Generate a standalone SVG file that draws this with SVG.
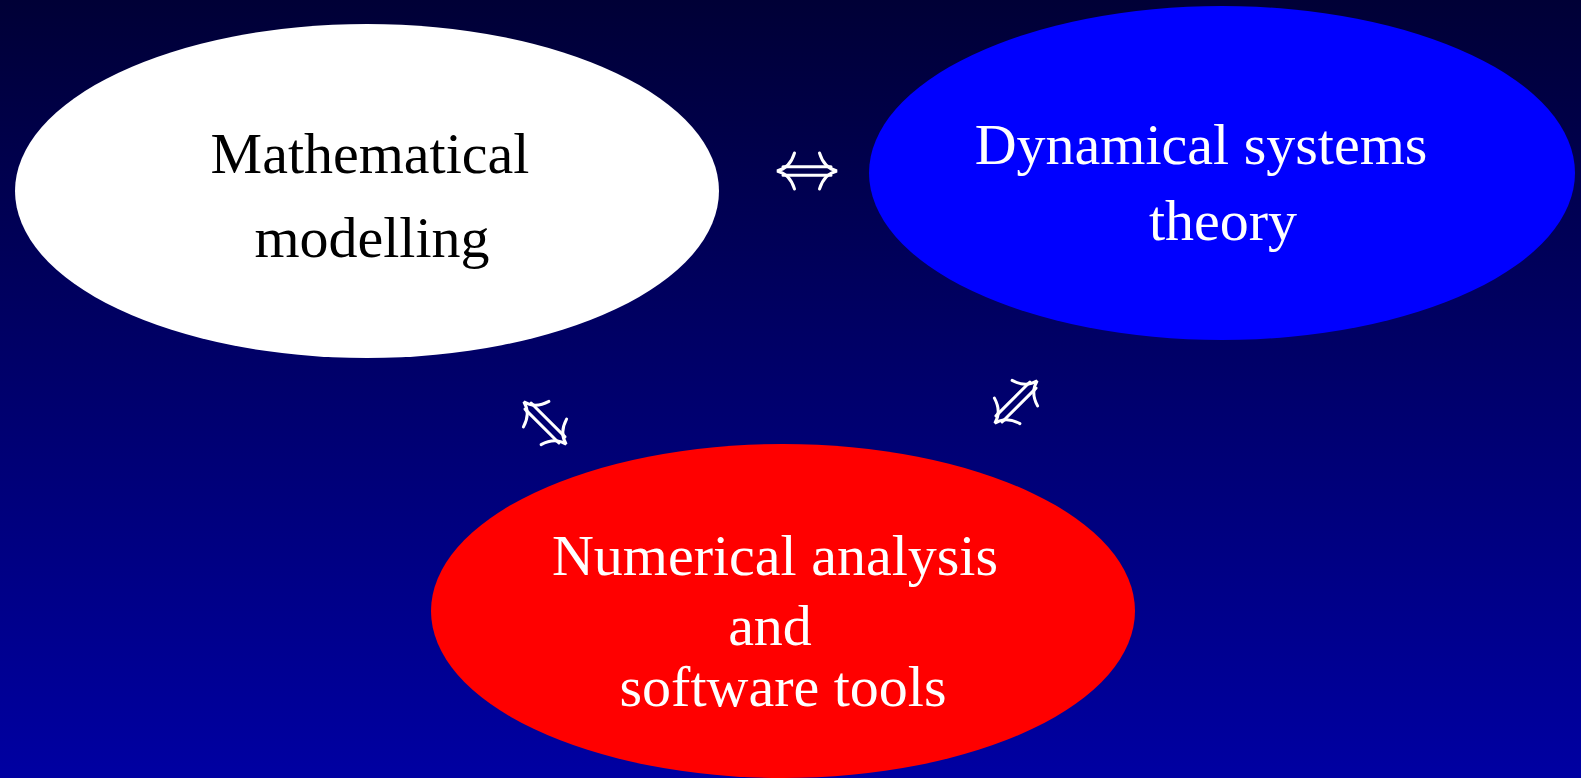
<svg xmlns="http://www.w3.org/2000/svg" width="1581" height="778" viewBox="0 0 1581 778">
  <defs>
    <linearGradient id="bg" x1="0" y1="0" x2="0" y2="1">
      <stop offset="0" stop-color="#000036"/>
      <stop offset="1" stop-color="#0000A2"/>
    </linearGradient>
    <!-- double-headed arrow, centred on the origin, pointing along x -->
    <g id="dblArrow" fill="none" stroke="#FFFFFF" stroke-width="3" stroke-linecap="round">
      <path d="M -24,-4.3 H 24 M -24,4.3 H 24"/>
      <path d="M -12.5,-18 Q -17,-3 -30,0 Q -17,3 -12.5,18"/>
      <path d="M 12.5,-18 Q 17,-3 30,0 Q 17,3 12.5,18"/>
    </g>
  </defs>
  <style>
    .label { font-family: "Liberation Serif", "Times New Roman", serif; font-size: 58px; text-anchor: middle; }
    .dark { fill: #000000; }
    .light { fill: #FFFFFF; }
  </style>

  <rect x="0" y="0" width="1581" height="778" fill="url(#bg)"/>

  <g id="node-modelling">
    <ellipse cx="367" cy="191" rx="352" ry="167" fill="#FFFFFF"/>
    <text class="label dark" x="370" y="173">Mathematical</text>
    <text class="label dark" x="372" y="257">modelling</text>
  </g>

  <g id="node-dynamics">
    <ellipse cx="1222" cy="173" rx="353" ry="167" fill="#0000FF"/>
    <text class="label light" x="1201" y="164">Dynamical systems</text>
    <text class="label light" x="1223" y="240">theory</text>
  </g>

  <g id="node-numerics">
    <ellipse cx="783" cy="611" rx="352" ry="167" fill="#FF0000"/>
    <text class="label light" x="775" y="575">Numerical analysis</text>
    <text class="label light" x="770" y="645">and</text>
    <text class="label light" x="783" y="706">software tools</text>
  </g>

  <g id="connectors">
    <use href="#dblArrow" transform="translate(807,171)"/>
    <use href="#dblArrow" transform="translate(545,423) rotate(45)"/>
    <use href="#dblArrow" transform="translate(1016,402) rotate(-45)"/>
  </g>
</svg>
